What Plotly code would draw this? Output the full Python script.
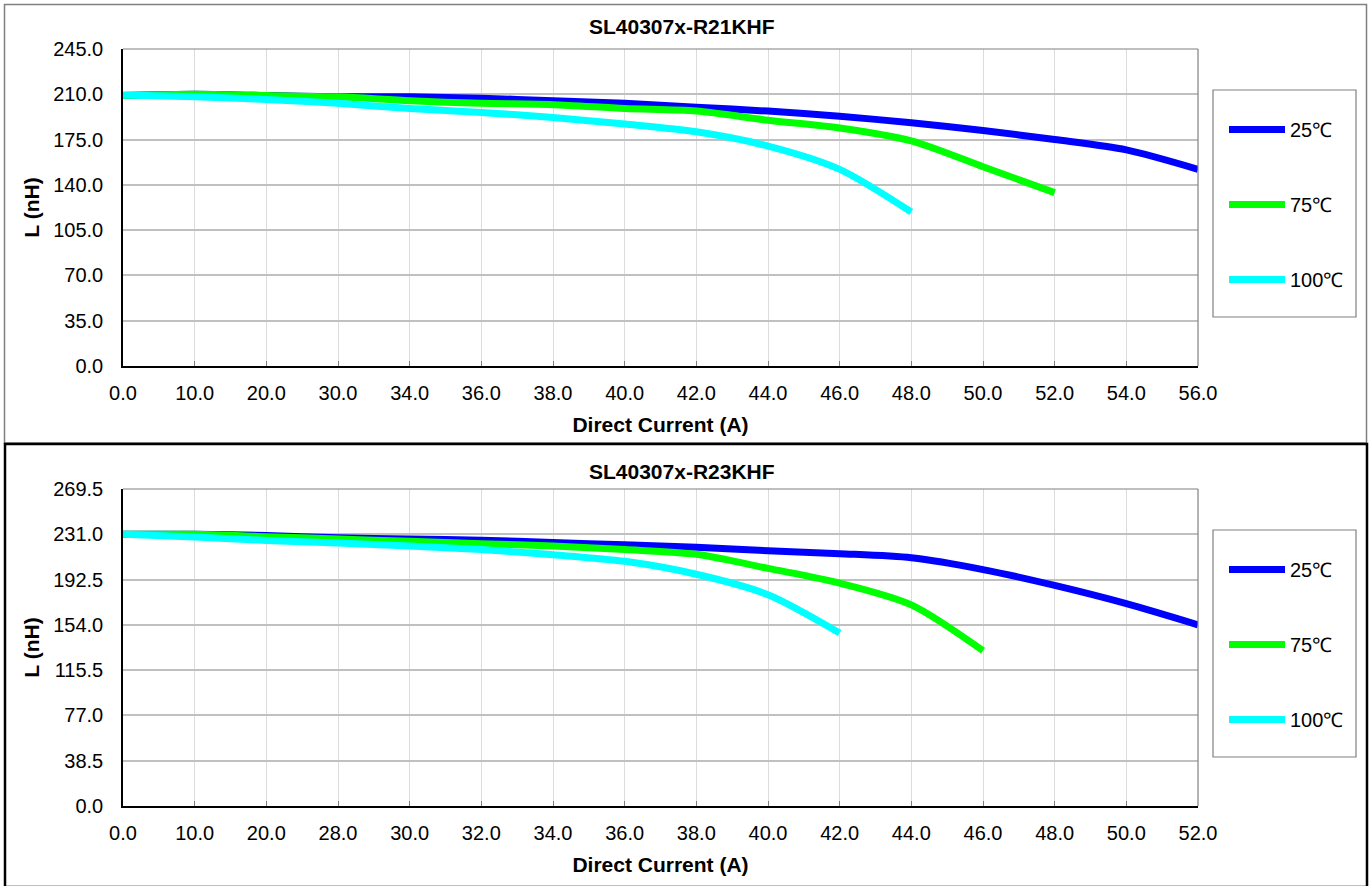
import plotly.graph_objects as go

# ---------------- data ----------------
top_title = "SL40307x-R21KHF"
bot_title = "SL40307x-R23KHF"
series_names = ["25℃", "75℃", "100℃"]
series_colors = ["#0000FF", "#00FF00", "#00FFFF"]

top_x = ["0.0", "10.0", "20.0", "30.0", "34.0", "36.0", "38.0", "40.0",
         "42.0", "44.0", "46.0", "48.0", "50.0", "52.0", "54.0", "56.0"]
top_25 = [209, 210, 209, 208, 208, 207, 205, 203, 200, 197, 193, 188, 182, 175, 167, 152]
top_75 = [209, 210, 209, 208, 205, 203, 202, 199, 197, 190, 184, 174, 154, 134]
top_100 = [209.5, 208, 206, 203, 199, 196, 192, 187, 181, 170, 152, 119]
top_yticks = [0, 35, 70, 105, 140, 175, 210, 245]

bot_x = ["0.0", "10.0", "20.0", "28.0", "30.0", "32.0", "34.0", "36.0",
         "38.0", "40.0", "42.0", "44.0", "46.0", "48.0", "50.0", "52.0"]
bot_25 = [231, 231, 230, 228, 227, 226, 224, 222, 220, 217, 214.5, 211, 201, 187.5, 172, 154]
bot_75 = [231, 231, 229, 227, 225, 223, 221, 218, 214, 202, 189.5, 171, 132]
bot_100 = [231, 228.6, 225.8, 223.5, 221, 218, 213.6, 208, 197, 179.6, 147]
bot_yticks = [0, 38.5, 77, 115.5, 154, 192.5, 231, 269.5]

# ---------------- layout helpers ----------------
W, H = 1371, 886
FONT = "Liberation Sans, Arial, sans-serif"


def px(x):
    return x / W


def py(y):
    return 1 - y / H


PL, PR = 123, 1198
TOP_T, TOP_B = 49, 366
BOT_T, BOT_B = 489, 806

fig = go.Figure()

top_series = [top_25, top_75, top_100]
bot_series = [bot_25, bot_75, bot_100]

for i, (name, col) in enumerate(zip(series_names, series_colors)):
    ys = top_series[i]
    fig.add_trace(go.Scatter(
        x=top_x[:len(ys)], y=ys, name=name, mode="lines",
        line=dict(color=col, width=7, shape="spline", smoothing=0.8),
        xaxis="x", yaxis="y", legend="legend", legendgroup="t" + str(i),
    ))
for i, (name, col) in enumerate(zip(series_names, series_colors)):
    ys = bot_series[i]
    fig.add_trace(go.Scatter(
        x=bot_x[:len(ys)], y=ys, name=name, mode="lines",
        line=dict(color=col, width=7, shape="spline", smoothing=0.8),
        xaxis="x2", yaxis="y2", legend="legend2", legendgroup="b" + str(i),
    ))


def xaxis_cfg(cats, anchor):
    return dict(
        type="category", categoryorder="array", categoryarray=cats,
        range=[0, len(cats) - 1], domain=[px(PL), px(PR)], anchor=anchor,
        showline=True, linecolor="black", linewidth=1.5,
        showgrid=True, gridcolor="#DCDCDC", gridwidth=1,
        ticks="inside", ticklen=5, tickcolor="#808080",
        ticklabelstandoff=8,
        tickfont=dict(family=FONT, size=20, color="black"),
        title=dict(text="<b>Direct Current (A)</b>", standoff=15,
                   font=dict(family=FONT, size=21, color="black")),
        zeroline=False, fixedrange=True, automargin=False,
    )


def yaxis_cfg(ticks, top, bottom, anchor):
    return dict(
        range=[ticks[0], ticks[-1]], tickvals=ticks,
        ticktext=[f"{t:.1f}" for t in ticks],
        domain=[py(bottom), py(top)], anchor=anchor,
        showline=True, linecolor="black", linewidth=1.5,
        showgrid=True, gridcolor="#C0C0C0", gridwidth=2,
        ticks="", ticklabelstandoff=14,
        tickfont=dict(family=FONT, size=20, color="black"),
        title=dict(text="<b>L (nH)</b>", standoff=8,
                   font=dict(family=FONT, size=21, color="black")),
        zeroline=False, fixedrange=True, automargin=False,
    )


def legend_cfg(item_center_y):
    return dict(
        x=px(1224), y=py(item_center_y - 18), xanchor="left", yanchor="top",
        bgcolor="rgba(0,0,0,0)", borderwidth=0,
        font=dict(family=FONT, size=20, color="black"),
        tracegroupgap=46, itemwidth=56, traceorder="grouped",
    )


shapes = []
# outer chart borders
shapes.append(dict(type="rect", xref="paper", yref="paper",
                   x0=px(4.5), x1=px(1366.5), y0=py(443), y1=py(4.5),
                   line=dict(color="#808080", width=1.5), layer="below"))
shapes.append(dict(type="rect", xref="paper", yref="paper",
                   x0=px(5), x1=px(1367), y0=py(887), y1=py(444),
                   line=dict(color="black", width=2.5), layer="below"))
# gray top/right plot borders
for t, b in [(TOP_T, TOP_B), (BOT_T, BOT_B)]:
    shapes.append(dict(type="line", xref="paper", yref="paper",
                       x0=px(PL), x1=px(PR), y0=py(t), y1=py(t),
                       line=dict(color="#808080", width=1.2)))
    shapes.append(dict(type="line", xref="paper", yref="paper",
                       x0=px(PR), x1=px(PR), y0=py(t), y1=py(b),
                       line=dict(color="#808080", width=1.2)))
# legend boxes
for t, b in [(90, 317), (530, 757)]:
    shapes.append(dict(type="rect", xref="paper", yref="paper",
                       x0=px(1213), x1=px(1356), y0=py(b), y1=py(t),
                       line=dict(color="#808080", width=1.2)))

annotations = [
    dict(text="<b>" + top_title + "</b>", x=px(682), y=py(27), xref="paper", yref="paper",
         showarrow=False, font=dict(family=FONT, size=21, color="black"),
         xanchor="center", yanchor="middle"),
    dict(text="<b>" + bot_title + "</b>", x=px(682), y=py(472), xref="paper", yref="paper",
         showarrow=False, font=dict(family=FONT, size=21, color="black"),
         xanchor="center", yanchor="middle"),
]

fig.update_layout(
    width=W, height=H,
    margin=dict(l=0, r=0, t=0, b=0, autoexpand=False),
    paper_bgcolor="white", plot_bgcolor="white",
    xaxis=xaxis_cfg(top_x, "y"),
    yaxis=yaxis_cfg(top_yticks, TOP_T, TOP_B, "x"),
    xaxis2=xaxis_cfg(bot_x, "y2"),
    yaxis2=yaxis_cfg(bot_yticks, BOT_T, BOT_B, "x2"),
    legend=legend_cfg(128),
    legend2=legend_cfg(568),
    shapes=shapes,
    annotations=annotations,
    showlegend=True,
    font=dict(family=FONT),
)

fig.write_html(
    "out.html",
    config={"displayModeBar": False},
    post_script="document.body.style.margin='0';document.body.style.overflow='hidden';",
)
